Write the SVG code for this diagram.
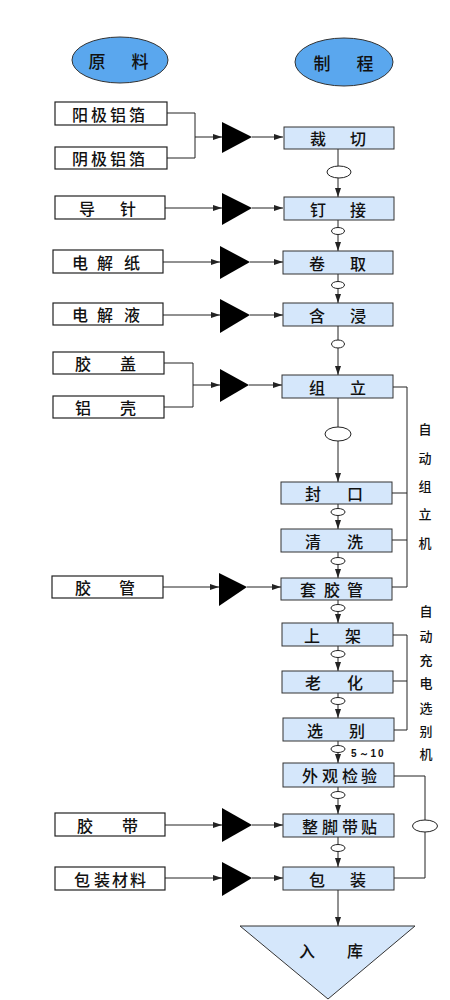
<svg xmlns="http://www.w3.org/2000/svg" width="450" height="1000" viewBox="0 0 450 1000">
<style>
.ell{fill:#5aa7ee;stroke:#333;stroke-width:1}
.src{fill:#fff;stroke:#222;stroke-width:1.2}
.proc{fill:#d5e7fb;stroke:#333;stroke-width:1}
.tri{fill:#000}
.ln{fill:none;stroke:#222;stroke-width:1}
.sm{fill:#fff;stroke:#222;stroke-width:1}
.t{font-family:"Noto Sans CJK SC","Noto Sans",sans-serif;font-size:16px;font-weight:500;fill:#111;text-anchor:middle;dominant-baseline:central}
.v{font-family:"Noto Sans CJK SC","Noto Sans",sans-serif;font-size:13px;font-weight:500;fill:#111;text-anchor:middle;dominant-baseline:central}
.n{font-family:"Liberation Sans",Arial,sans-serif;font-size:10px;font-weight:bold;fill:#111;letter-spacing:2px}
</style>
<defs>
<marker id="ar" markerWidth="9" markerHeight="6" refX="9" refY="3" orient="auto" markerUnits="userSpaceOnUse">
<path d="M0,0 L9,3 L0,6 z" fill="#222"/>
</marker>
</defs>

<g id="connectors">
<polyline class="ln" points="167,113 195,113 195,158 167,158"/>
<line class="ln" x1="195" y1="137" x2="222" y2="137" marker-end="url(#ar)"/>
<line class="ln" x1="252" y1="137" x2="283" y2="137" marker-end="url(#ar)"/>
<line class="ln" x1="165" y1="208" x2="222" y2="208" marker-end="url(#ar)"/>
<line class="ln" x1="252" y1="208" x2="283" y2="208" marker-end="url(#ar)"/>
<line class="ln" x1="163" y1="262" x2="220" y2="262" marker-end="url(#ar)"/>
<line class="ln" x1="250" y1="262" x2="283" y2="262" marker-end="url(#ar)"/>
<line class="ln" x1="163" y1="315" x2="220" y2="315" marker-end="url(#ar)"/>
<line class="ln" x1="250" y1="315" x2="283" y2="315" marker-end="url(#ar)"/>
<polyline class="ln" points="164,363 193,363 193,407 164,407"/>
<line class="ln" x1="193" y1="385" x2="220" y2="385" marker-end="url(#ar)"/>
<line class="ln" x1="249" y1="385" x2="282" y2="385" marker-end="url(#ar)"/>
<line class="ln" x1="163" y1="587" x2="219" y2="587" marker-end="url(#ar)"/>
<line class="ln" x1="247" y1="587" x2="281" y2="587" marker-end="url(#ar)"/>
<line class="ln" x1="165" y1="825" x2="222" y2="825" marker-end="url(#ar)"/>
<line class="ln" x1="252" y1="825" x2="283" y2="825" marker-end="url(#ar)"/>
<line class="ln" x1="165" y1="878" x2="222" y2="878" marker-end="url(#ar)"/>
<line class="ln" x1="252" y1="878" x2="283" y2="878" marker-end="url(#ar)"/>

<line class="ln" x1="338" y1="149" x2="338" y2="197" marker-end="url(#ar)"/>
<line class="ln" x1="338" y1="220" x2="338" y2="251" marker-end="url(#ar)"/>
<line class="ln" x1="338" y1="274" x2="338" y2="303" marker-end="url(#ar)"/>
<line class="ln" x1="338" y1="326" x2="338" y2="375" marker-end="url(#ar)"/>
<line class="ln" x1="338" y1="398" x2="338" y2="482" marker-end="url(#ar)"/>
<line class="ln" x1="338" y1="504" x2="338" y2="529" marker-end="url(#ar)"/>
<line class="ln" x1="338" y1="552" x2="338" y2="578" marker-end="url(#ar)"/>
<line class="ln" x1="338" y1="600" x2="338" y2="623" marker-end="url(#ar)"/>
<line class="ln" x1="338" y1="646" x2="338" y2="671" marker-end="url(#ar)"/>
<line class="ln" x1="338" y1="693" x2="338" y2="718" marker-end="url(#ar)"/>
<line class="ln" x1="338" y1="741" x2="338" y2="763" marker-end="url(#ar)"/>
<line class="ln" x1="338" y1="787" x2="338" y2="814" marker-end="url(#ar)"/>
<line class="ln" x1="338" y1="837" x2="338" y2="867" marker-end="url(#ar)"/>
<line class="ln" x1="338" y1="890" x2="338" y2="926" marker-end="url(#ar)"/>

<ellipse class="sm" cx="339" cy="172" rx="12" ry="6"/>
<ellipse class="sm" cx="338" cy="231" rx="6.5" ry="3.5"/>
<ellipse class="sm" cx="338" cy="285" rx="6.5" ry="3.5"/>
<ellipse class="sm" cx="338" cy="344" rx="6.5" ry="4"/>
<ellipse class="sm" cx="338" cy="434" rx="13" ry="7"/>
<ellipse class="sm" cx="338" cy="512" rx="7" ry="3.5"/>
<ellipse class="sm" cx="338" cy="561" rx="7" ry="3.5"/>
<ellipse class="sm" cx="338" cy="608" rx="7" ry="3.5"/>
<ellipse class="sm" cx="338" cy="654" rx="7" ry="3.5"/>
<ellipse class="sm" cx="338" cy="701" rx="7" ry="3.5"/>
<ellipse class="sm" cx="338" cy="749" rx="7" ry="3.5"/>
<ellipse class="sm" cx="338" cy="795" rx="7" ry="3.5"/>
<ellipse class="sm" cx="338" cy="848" rx="7" ry="3.5"/>

<polyline class="ln" points="393,387 407,387 407,587 392,587"/>
<line class="ln" x1="392" y1="493" x2="407" y2="493"/>
<line class="ln" x1="392" y1="540" x2="407" y2="540"/>
<polyline class="ln" points="393,635 407,635 407,730 394,730"/>
<line class="ln" x1="393" y1="681" x2="407" y2="681"/>
<polyline class="ln" points="394,776 425,776 425,878 394,878"/>
<ellipse class="sm" cx="425" cy="826" rx="12.5" ry="6"/>
</g>

<g id="h-raw"><ellipse class="ell" cx="120" cy="60" rx="48" ry="23"/><text class="t" x="97 140" y="60" style="font-size:17px">原料</text></g>
<g id="h-proc"><ellipse class="ell" cx="344" cy="62" rx="49" ry="24"/><text class="t" x="322 365" y="62" style="font-size:17px">制程</text></g>

<g id="s1"><rect class="src" x="55" y="102" width="112" height="23"/><text class="t" x="80 99 118 137" y="113.5">阳极铝箔</text></g>
<g id="s2"><rect class="src" x="55" y="147" width="112" height="22"/><text class="t" x="80 99 118 137" y="158">阴极铝箔</text></g>
<g id="s3"><rect class="src" x="55" y="196" width="110" height="23"/><text class="t" x="87 128" y="207.5">导针</text></g>
<g id="s4"><rect class="src" x="53" y="250" width="110" height="23"/><text class="t" x="80 105 132" y="261.5">电解纸</text></g>
<g id="s5"><rect class="src" x="53" y="303" width="110" height="22"/><text class="t" x="80 105 132" y="314">电解液</text></g>
<g id="s6"><rect class="src" x="53" y="352" width="111" height="22"/><text class="t" x="83 128" y="363">胶盖</text></g>
<g id="s7"><rect class="src" x="53" y="396" width="111" height="22"/><text class="t" x="83 128" y="407">铝壳</text></g>
<g id="s8"><rect class="src" x="52" y="576" width="111" height="22"/><text class="t" x="83 127" y="587">胶管</text></g>
<g id="s9"><rect class="src" x="55" y="813" width="110" height="23"/><text class="t" x="85 130" y="824.5">胶带</text></g>
<g id="s10"><rect class="src" x="55" y="867" width="110" height="23"/><text class="t" x="82 102 120 138" y="878.5">包装材料</text></g>

<g id="tri1"><polygon class="tri" points="222,122 252,137 222,153"/></g>
<g id="tri2"><polygon class="tri" points="222,193 252,208 222,225"/></g>
<g id="tri3"><polygon class="tri" points="220,246 250,262 220,279"/></g>
<g id="tri4"><polygon class="tri" points="220,299 250,315 220,333"/></g>
<g id="tri5"><polygon class="tri" points="220,369 249,385 220,402"/></g>
<g id="tri6"><polygon class="tri" points="219,573 247,587 219,606"/></g>
<g id="tri7"><polygon class="tri" points="222,808 252,825 222,842"/></g>
<g id="tri8"><polygon class="tri" points="222,862 252,878 222,896"/></g>

<g id="p1"><rect class="proc" x="284" y="127" width="110" height="22"/><text class="t" x="318 358" y="138">裁切</text></g>
<g id="p2"><rect class="proc" x="284" y="197" width="110" height="23"/><text class="t" x="318 358" y="208.5">钉接</text></g>
<g id="p3"><rect class="proc" x="283" y="251" width="110" height="23"/><text class="t" x="317 358" y="262.5">卷取</text></g>
<g id="p4"><rect class="proc" x="283" y="303" width="110" height="23"/><text class="t" x="317 358" y="314.5">含浸</text></g>
<g id="p5"><rect class="proc" x="282" y="375" width="111" height="23"/><text class="t" x="317 358" y="386.5">组立</text></g>
<g id="p6"><rect class="proc" x="281" y="482" width="111" height="22"/><text class="t" x="313 355" y="493">封口</text></g>
<g id="p7"><rect class="proc" x="281" y="529" width="111" height="23"/><text class="t" x="313 355" y="540.5">清洗</text></g>
<g id="p8"><rect class="proc" x="281" y="578" width="111" height="22"/><text class="t" x="308 332 355" y="589">套胶管</text></g>
<g id="p9"><rect class="proc" x="282" y="623" width="111" height="23"/><text class="t" x="312 353" y="634.5">上架</text></g>
<g id="p10"><rect class="proc" x="282" y="671" width="111" height="22"/><text class="t" x="313 355" y="682">老化</text></g>
<g id="p11"><rect class="proc" x="283" y="718" width="111" height="23"/><text class="t" x="315 357" y="729.5">选别</text></g>
<g id="p12"><rect class="proc" x="283" y="763" width="111" height="24"/><text class="t" x="310 330 350 369" y="775">外观检验</text></g>
<g id="p13"><rect class="proc" x="283" y="814" width="111" height="23"/><text class="t" x="310 330 350 369" y="825.5">整脚带贴</text></g>
<g id="p14"><rect class="proc" x="283" y="867" width="111" height="23"/><text class="t" x="317 358" y="878.5">包装</text></g>
<g id="p15"><polygon class="proc" points="240,926 415,926 328,999"/><text class="t" x="307 355" y="950">入库</text></g>

<g id="lbl1"><text class="v" x="425 425 425 425 425" y="428 457 485 513 542">自动组立机</text></g>
<g id="lbl2"><text class="v" x="426 426 426 426 426 426 426" y="610 635 659 682 707 730 753">自动充电选别机</text></g>
<g id="lbl3"><text class="n" x="351" y="757">5～10</text></g>
</svg>
